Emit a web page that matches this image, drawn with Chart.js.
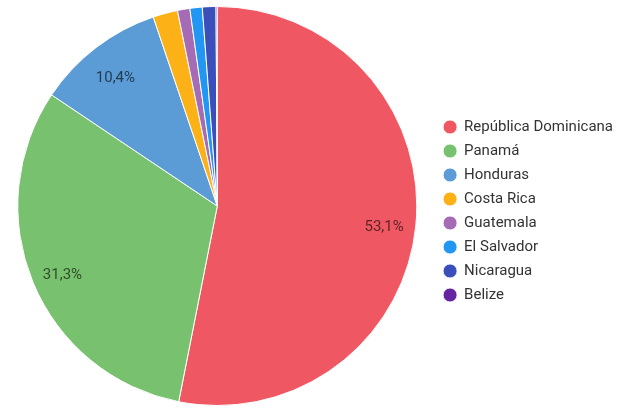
<!DOCTYPE html>
<html>
<head>
<meta charset="utf-8">
<script src="https://cdn.jsdelivr.net/npm/chart.js@4.4.1/dist/chart.umd.min.js"></script>
<style>
  html, body { margin: 0; padding: 0; background: #fff; }
  #wrap { width: 628px; height: 410px; }
</style>
</head>
<body>
<div id="wrap"><canvas id="chart"></canvas></div>
<script>
const countries = ["República Dominicana", "Panamá", "Honduras", "Costa Rica", "Guatemala", "El Salvador", "Nicaragua", "Belize"];
const shares = [53.1, 31.3, 10.4, 2.0, 1.0, 1.0, 1.1, 0.1];
const colors = ["#ef5863", "#78c16e", "#5b9bd6", "#fcb216", "#a66bb5", "#2196f3", "#3b4fba", "#6525a0"];

// percentage labels inside the bigger slices
const sliceLabels = {
  id: "sliceLabels",
  afterDatasetsDraw(chart) {
    const ctx = chart.ctx;
    const meta = chart.getDatasetMeta(0);
    const data = chart.data.datasets[0].data;
    const total = data.reduce((a, b) => a + b, 0);
    ctx.save();
    ctx.font = "15px Roboto";
    ctx.fillStyle = "rgba(0,0,0,0.62)";
    ctx.textAlign = "center";
    ctx.textBaseline = "middle";
    meta.data.forEach((arc, i) => {
      const pct = data[i] / total * 100;
      if (pct < 5) return;
      const p = arc.getProps(["x", "y", "startAngle", "endAngle", "outerRadius"], true);
      const mid = (p.startAngle + p.endAngle) / 2;
      const r = p.outerRadius * 0.84;
      // labels sit a little below the radial point in the original
      ctx.fillText(pct.toFixed(1).replace(".", ",") + "%", p.x + Math.cos(mid) * r, p.y + Math.sin(mid) * r + 5);
    });
    ctx.restore();
  }
};

new Chart(document.getElementById("chart"), {
  type: "pie",
  data: {
    labels: countries,
    datasets: [{
      data: shares,
      backgroundColor: colors,
      borderColor: "#fff",
      borderWidth: 1
    }]
  },
  options: {
    responsive: true,
    maintainAspectRatio: false,
    animation: false,
    layout: { padding: { left: 0, right: 5, top: 6, bottom: 4 } },
    plugins: {
      tooltip: { enabled: false },
      legend: {
        position: "right",
        title: { display: true, text: "", font: { size: 10, lineHeight: 1 }, padding: 0 },
        labels: {
          usePointStyle: true,
          pointStyle: "circle",
          boxWidth: 13,
          boxHeight: 10,
          padding: 9,
          color: "#333",
          font: { family: "Roboto", size: 15 }
        }
      }
    }
  },
  plugins: [sliceLabels]
});
</script>
</body>
</html>
